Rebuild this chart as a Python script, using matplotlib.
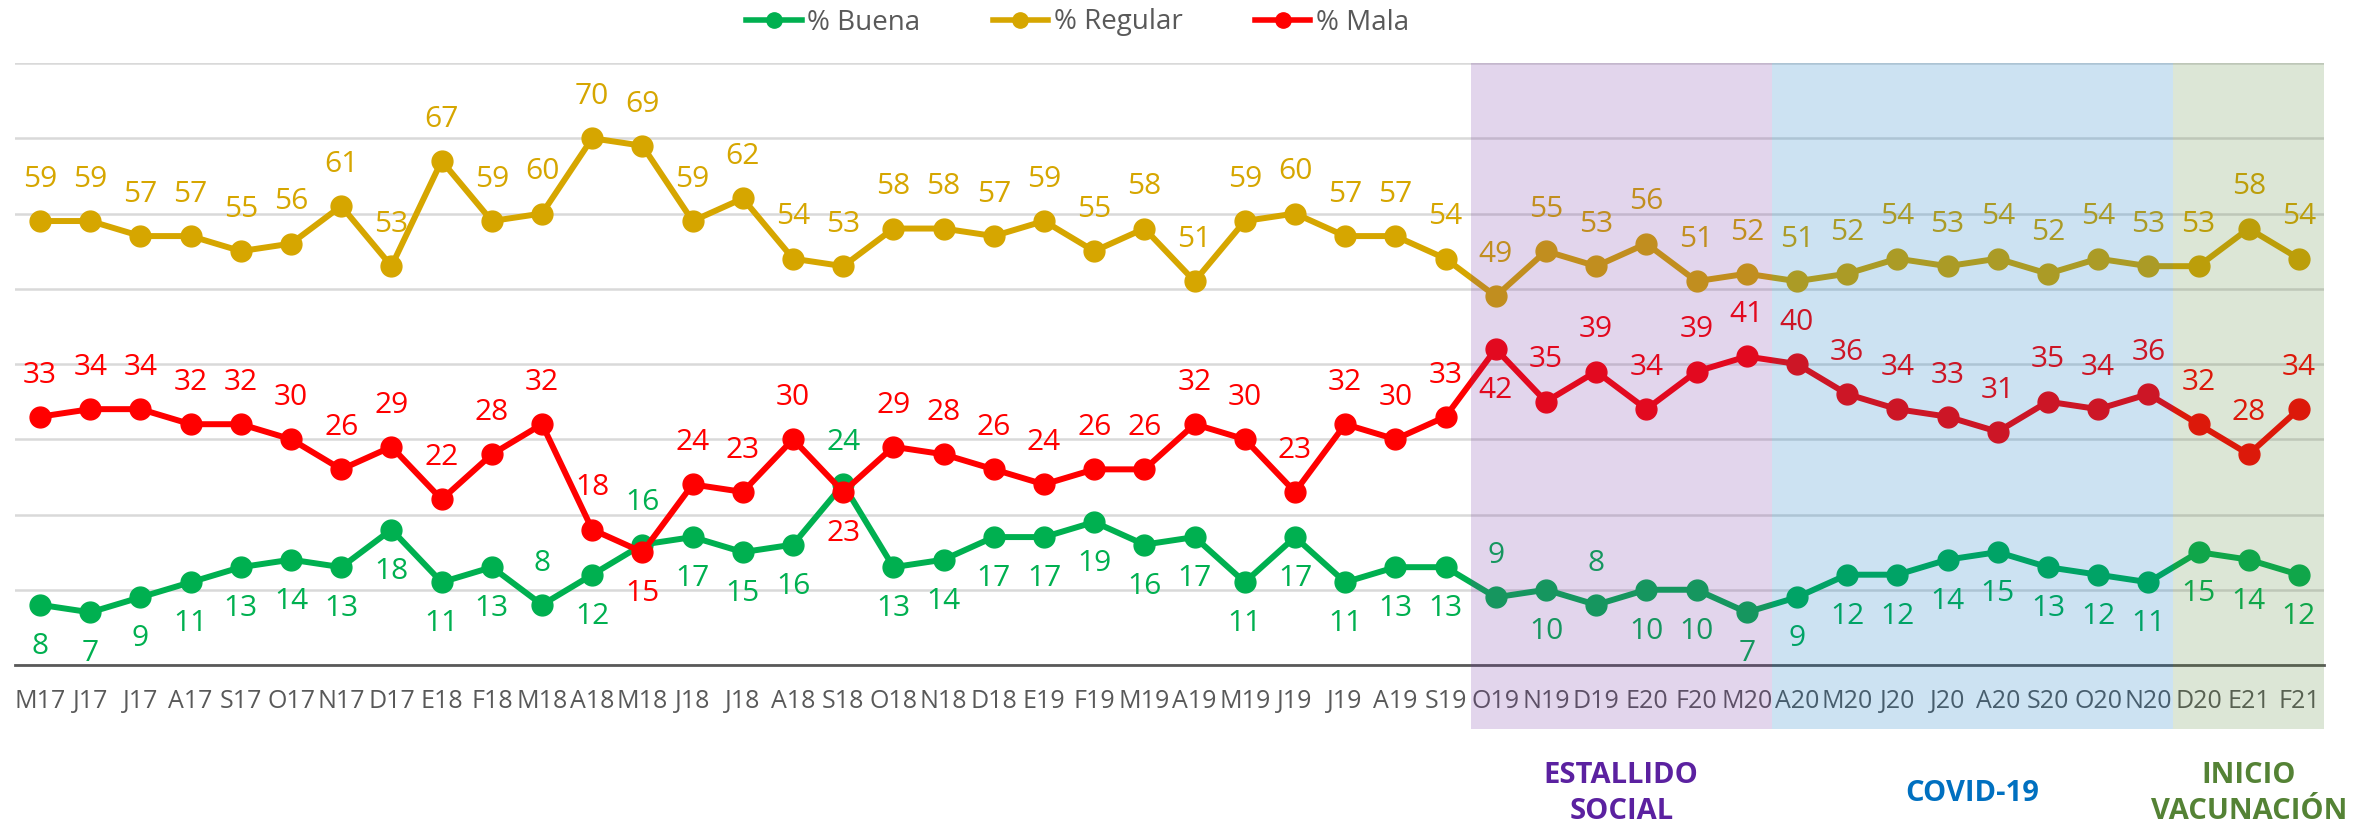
import numpy as np
import matplotlib
matplotlib.use("Agg")
from matplotlib import pyplot as plt
from matplotlib.patches import Rectangle
from matplotlib.lines import Line2D
import matplotlib.transforms as mtransforms

plt.rcParams['font.family'] = ['Open Sans', 'DejaVu Sans']

meses = ["M17", "J17", "J17", "A17", "S17", "O17", "N17", "D17", "E18", "F18",
         "M18", "A18", "M18", "J18", "J18", "A18", "S18", "O18", "N18", "D18",
         "E19", "F19", "M19", "A19", "M19", "J19", "J19", "A19", "S19", "O19",
         "N19", "D19", "E20", "F20", "M20", "A20", "M20", "J20", "J20", "A20",
         "S20", "O20", "N20", "D20", "E21", "F21"]

buena = [8, 7, 9, 11, 13, 14, 13, 18, 11, 13, 8, 12, 16, 17, 15, 16, 24, 13, 14, 17,
         17, 19, 16, 17, 11, 17, 11, 13, 13, 9, 10, 8, 10, 10, 7, 9, 12, 12, 14, 15,
         13, 12, 11, 15, 14, 12]
regular = [59, 59, 57, 57, 55, 56, 61, 53, 67, 59, 60, 70, 69, 59, 62, 54, 53, 58, 58, 57,
           59, 55, 58, 51, 59, 60, 57, 57, 54, 49, 55, 53, 56, 51, 52, 51, 52, 54, 53, 54,
           52, 54, 53, 53, 58, 54]
mala = [33, 34, 34, 32, 32, 30, 26, 29, 22, 28, 32, 18, 15, 24, 23, 30, 23, 29, 28, 26,
        24, 26, 26, 32, 30, 23, 32, 30, 33, 42, 35, 39, 34, 39, 41, 40, 36, 34, 33, 31,
        35, 34, 36, 32, 28, 34]

# indices whose label goes on the other side
buena_arriba = [10, 12, 16, 29, 31]
mala_abajo = [12, 16, 29]

# (texto, primer indice, ultimo indice)
periodos = [("ESTALLIDO\nSOCIAL", 29, 34), ("COVID-19", 35, 42), ("INICIO\nVACUNACIÓN", 43, 45)]
colores_fondo = ['#7030A0', '#0070C0', '#548235']
colores_texto = ['#5B21A0', '#0070C0', '#548235']

c_buena = '#00B050'
c_regular = '#D6A600'
c_mala = '#FF0000'

W, H = 2358, 825
fig = plt.figure(figsize=(W / 100, H / 100), dpi=100)
ax = fig.add_axes([15 / W, 1 - 665 / H, (2324 - 15) / W, (665 - 63) / H])

x = np.arange(len(meses))

series = [(buena, c_buena, '% Buena'), (regular, c_regular, '% Regular'), (mala, c_mala, '% Mala')]
for vals, c, name in series:
    ax.plot(x, vals, color=c, lw=4.3, marker='o', ms=15, zorder=3, label=name)

def etiquetas(vals, c, arriba):
    for i, v in enumerate(vals):
        dy = 30 if arriba(i) else -30
        ax.annotate(str(v), (i, v), xytext=(0, dy), textcoords='offset points',
                    ha='center', va='center', fontsize=21.5, color=c, zorder=4)

etiquetas(regular, c_regular, lambda i: True)
etiquetas(mala, c_mala, lambda i: i not in mala_abajo)
etiquetas(buena, c_buena, lambda i: i in buena_arriba)

ax.set_xlim(-0.5, len(meses) - 0.5)
ax.set_ylim(0, 80)
ax.set_yticks(range(0, 81, 10))
ax.yaxis.grid(True, color='#D9D9D9', lw=1.8, zorder=0)
ax.set_axisbelow(True)
ax.tick_params(axis='y', length=0, labelleft=False)
ax.set_xticks(x)
ax.set_xticklabels(meses, fontsize=18, color='#595959')
ax.tick_params(axis='x', length=0, pad=17)
for s in ['left', 'right', 'top']:
    ax.spines[s].set_visible(False)
ax.spines['bottom'].set_color('#595959')
ax.spines['bottom'].set_linewidth(2)
ax.spines['bottom'].set_zorder(5)

# shaded periods over the lines, running down past the tick labels
trans = mtransforms.blended_transform_factory(ax.transData, ax.transAxes)
ybot = ((825 - 729) / H - (1 - 665 / H)) / ((665 - 63) / H)
ttrans = mtransforms.blended_transform_factory(ax.transData, fig.transFigure)
for (txt, a, b), cf, ct in zip(periodos, colores_fondo, colores_texto):
    r = Rectangle((a - 0.5, ybot), b - a + 1, 1 - ybot, transform=trans,
                  facecolor=cf, alpha=0.2, edgecolor='none', clip_on=False, zorder=10)
    ax.add_patch(r)
    ax.text((a + b) / 2, 0.038, txt, transform=ttrans, ha='center', va='center',
            fontsize=21, fontweight='bold', color=ct, linespacing=1.3)

handles = [Line2D([], [], color=c, lw=4, marker='o', ms=11) for _, c, _ in series]
fig.legend(handles, [n for _, _, n in series], loc='upper center', bbox_to_anchor=(0.457, 1.02),
           ncol=3, frameon=False, fontsize=20, handlelength=2.0, handletextpad=0.2,
           columnspacing=2.6, labelcolor='#595959')

fig.savefig('out.png', dpi=100)
